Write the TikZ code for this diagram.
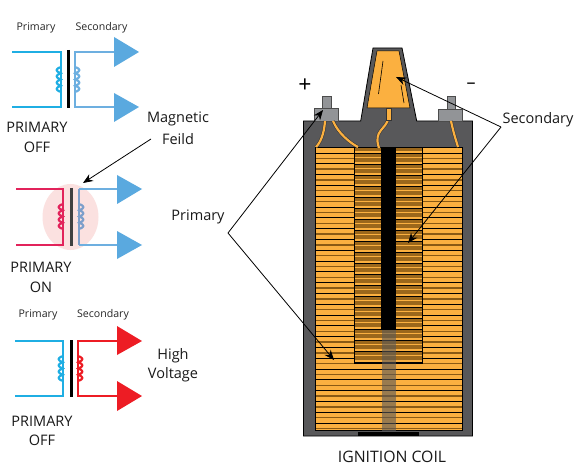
\documentclass[tikz,border=0pt]{standalone}
\usepackage{fontspec}
\setmainfont{Open Sans}
\usetikzlibrary{arrows.meta}
\definecolor{cblue}{HTML}{1FAEE3}
\definecolor{sblue}{HTML}{6DAFE0}
\definecolor{cblue2}{HTML}{7D9FCB}
\definecolor{tblue}{HTML}{5AA9DF}
\definecolor{crim}{HTML}{E2235B}
\definecolor{hot}{HTML}{ED1C24}
\definecolor{bodyg}{HTML}{58585A}
\definecolor{termg}{HTML}{929497}
\definecolor{orng}{HTML}{FBB040}
\definecolor{brn}{HTML}{8A5A14}
\definecolor{halo}{HTML}{FBE1E0}
\tikzset{
 x=1pt,y=-1pt,
 lab/.style={inner sep=0pt,font=\fontsize{10.6}{12}\selectfont,text=black!85},
 big/.style={inner sep=0pt,font=\fontsize{14.5}{16}\selectfont,text=black!90},
 wirel/.style={line width=2.3pt,line join=miter},
 callout/.style={draw=black,line width=0.8pt},
 arrowed/.style={callout,-{Stealth[length=10pt,width=8pt]}},
}
\newcommand{\coilat}[5]{% x, ytop, ybot, amplitude signed, colour
 \draw[#5,line width=2.2pt] plot[smooth,domain=0:1,samples=61,variable=\t]
   ({#1+#4*0.5*(1-cos(\t*1440))},{#2+(#3-#2)*\t-0.7*sin(\t*1440)});
}
\begin{document}
\begin{tikzpicture}
\useasboundingbox (0,0) rectangle (578,473);
\fill[white] (0,0) rectangle (578,473);

%% --- top diagram
\node[lab] (p1) at (36,28) {Primary};
\node[lab] (s1) at (101.5,28) {Secondary};
\draw[wirel,cblue] (12,52) -- (61,52) -- (61,107) -- (12,107);
\coilat{61}{67}{92}{-4.2}{cblue}
\draw[black,line width=3pt] (68,50) -- (68,108);
\draw[wirel,sblue] (114,52) -- (75,52) -- (75,107) -- (114,107);
\coilat{75}{67}{92}{4.2}{sblue}
\fill[tblue] (114,37) -- (139,52) -- (114,67) -- cycle;
\fill[tblue] (114,93) -- (139,107) -- (114,122) -- cycle;
\node[big] (t1a) at (37,127) {PRIMARY};
\node[big] (t1b) at (37,147) {OFF};

%% --- middle diagram
\fill[halo] (70.5,217) ellipse [x radius=28,y radius=33];
\draw[wirel,crim] (16,189) -- (63,189) -- (63,245) -- (16,245);
\coilat{63}{204}{229}{-4.2}{crim}
\draw[black!75,line width=3pt] (71,188) -- (71,246);
\draw[wirel,sblue] (117,189) -- (79,189);
\draw[wirel,sblue] (117,245) -- (79,245);
\draw[wirel,cblue2] (79,189) -- (79,245);
\coilat{79}{204}{229}{4.2}{cblue2}
\fill[tblue] (117,175) -- (142,189) -- (117,204) -- cycle;
\fill[tblue] (117,231) -- (142,245) -- (117,259) -- cycle;
\node[big] (t2a) at (41,267) {PRIMARY};
\node[big] (t2b) at (41,287) {ON};

%% --- bottom diagram
\node[lab] (p3) at (38,315) {Primary};
\node[lab] (s3) at (103,315) {Secondary};
\draw[wirel,cblue] (15,341) -- (63,341) -- (63,396) -- (15,396);
\coilat{63}{356}{381}{-4.2}{cblue}
\draw[black,line width=3pt] (71,340) -- (71,397);
\draw[wirel,hot] (117,341) -- (78,341) -- (78,396) -- (117,396);
\coilat{78}{356}{381}{4.2}{hot}
\fill[hot] (117,326) -- (142,341) -- (117,355) -- cycle;
\fill[hot] (117,381) -- (142,396) -- (117,411) -- cycle;
\node[big] (t3a) at (42,421) {PRIMARY};
\node[big] (t3b) at (42,440) {OFF};
\node[big] (hv1) at (173,356) {High};
\node[big] (hv2) at (173,375) {Voltage};

%% --- ignition coil body
\draw[fill=bodyg,draw=black,line width=0.8pt]
  (303.5,121) -- (360.7,121) -- (373,48) -- (402,48) -- (416.7,121) -- (472.5,121)
  -- (472.5,436) -- (303.5,436) -- cycle;
\fill[orng,draw=black,line width=0.5pt] (377,51) -- (399,51) -- (410,108) -- (367,108) -- cycle;
\draw[black,line width=0.6pt] (383,61) -- (378.5,94);
\draw[black,line width=0.6pt] (401,85) -- (404,103);
% terminals
\draw[fill=termg,draw=black!70,line width=0.4pt] (321.7,96) rectangle (330.7,108);
\draw[fill=termg,draw=black!70,line width=0.4pt] (314,108) rectangle (338,121);
\draw[fill=termg,draw=black!70,line width=0.4pt] (446.7,96.5) rectangle (454.7,109);
\draw[fill=termg,draw=black!70,line width=0.4pt] (438,109) rectangle (462,121);
% primary winding
\fill[orng] (315,147) rectangle (462,430.5);
\begin{scope}
 \clip (315,147) rectangle (462,430.5);
 \foreach \i in {0,...,26}{
  \draw[black,line width=0.7pt] (315,{153+\i*10.8}) -- (462,{153+\i*10.8});
  \draw[brn,line width=1.4pt] (315,{158.4+\i*10.8}) -- (462,{158.4+\i*10.8});
 }
\end{scope}
\draw[black,line width=0.8pt] (315,147) rectangle (462,430.5);
% secondary winding
\begin{scope}
 \clip (354,147) rectangle (422,363);
 \fill[brn!85!orng] (354,147) rectangle (422,363);
 \foreach \i in {0,...,39}{
  \draw[orng,line width=1.1pt] (354,{152+\i*5.5}) -- (422,{152+\i*5.5});
 }
 \foreach \i in {0,...,19}{
  \draw[black,line width=0.6pt] (354,{153+\i*11}) -- (422,{153+\i*11});
 }
\end{scope}
\draw[black,line width=0.8pt] (354,147) rectangle (422,363);
% core
\fill[black] (381,147) rectangle (396,330);
\fill[bodyg,opacity=0.6] (381.5,330) rectangle (396,430.5);
\fill[black] (358,432) rectangle (419,436);
% leads
\foreach \a/\b/\c/\d/\e/\f/\g/\h in {325/121/324/135/320/143/316/147, 333/121/338/133/350/143/358/147, 451/121/454/135/456/140/458/147}{
 \draw[black!80,line width=3.2pt] (\a,\b) .. controls (\c,\d) and (\e,\f) .. (\g,\h);
 \draw[orng,line width=2.2pt] (\a,\b) .. controls (\c,\d) and (\e,\f) .. (\g,\h);
}
\draw[black!80,line width=3.2pt] (388.5,118) .. controls (386,130) and (373,130) .. (379,148);
\draw[orng,line width=2.2pt] (388.5,118) .. controls (386,130) and (373,130) .. (379,148);
\fill[orng,draw=black!80,line width=0.5pt] (386,108) rectangle (391.7,120);

%% --- labels
\node[inner sep=0pt,font=\fontsize{23}{25}\selectfont] (plus) at (305,86) {+};
\node[inner sep=0pt,font=\fontsize{18}{20}\selectfont] (minus) at (471,86) {–};
\node[big] (mag1) at (178,119) {Magnetic};
\node[big] (mag2) at (178,139) {Feild};
\node[big] (prim) at (198,217) {Primary};
\node[big] (sec) at (538,120) {Secondary};
\node[big,font=\fontsize{15.8}{18}\selectfont] (ign) at (392,457) {IGNITION COIL};
\coordinate (pj) at (228,233);
\coordinate (sj) at (501,127);
\coordinate (magstart) at (151,139);
\coordinate (magtip) at (83,183);
\coordinate (ptip1) at (323,110);
\coordinate (ptip2) at (334,360);
\coordinate (stip1) at (396,77);
\coordinate (stip2) at (408,243);
\draw[arrowed] (magstart) -- (magtip);
\draw[arrowed] (pj) -- (ptip1);
\draw[arrowed] (pj) -- (ptip2);
\draw[arrowed] (sj) -- (stip1);
\draw[arrowed] (sj) -- (stip2);
\end{tikzpicture}
\end{document}
